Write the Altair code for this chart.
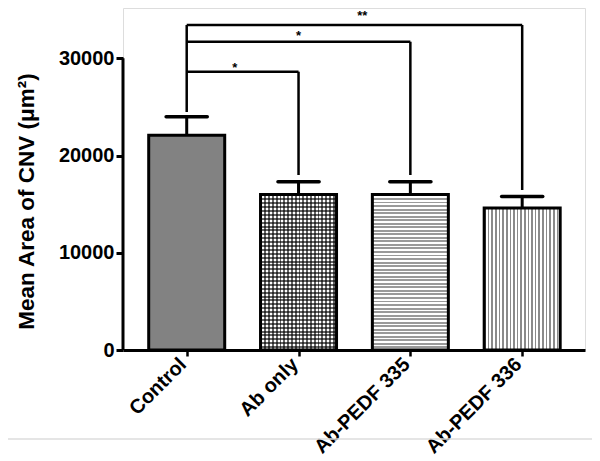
import json
import altair as alt
import pandas as pd

# ---------------- data ----------------
categories = ["Control", "Ab only", "Ab-PEDF 335", "Ab-PEDF 336"]
means = [22100, 16000, 16000, 14600]
upper = [24000, 17300, 17300, 15800]

# significance brackets (all compared with Control)
cmp_to = [1, 2, 3]
cmp_level = [28630, 31710, 33430]
cmp_end = [18000, 18000, 16460]
cmp_label = ["*", "*", "**"]
star_x = [0.43, 1.0, 1.57]
star_y = [29830, 33120, 35180]
bracket_base = 24480

y_ticks = [0, 10000, 20000, 30000]
y_axis_top = 30000

# ---------------- layout / style ----------------
FONT = "Liberation Sans"
W, H = 462, 342
BAR_PX = 76
CAP_HALF = 0.184  # half cap width in category units

bars = pd.DataFrame({
    "idx": list(range(len(categories))),
    "cat": categories,
    "mean": means,
    "upper": upper,
})
bars["lo"] = bars["idx"] - CAP_HALF
bars["hi"] = bars["idx"] + CAP_HALF

br = pd.DataFrame({"to": cmp_to, "level": cmp_level, "end": cmp_end})
br["x0"] = 0
stars = pd.DataFrame({"x": star_x, "y": star_y, "label": cmp_label})
left_v = pd.DataFrame({"x": [0], "y": [bracket_base], "y2": [max(cmp_level)]})
yline = pd.DataFrame({"y": [0], "y2": [y_axis_top]})

xscale = alt.Scale(domain=[-0.525, 3.517], nice=False, zero=False)
yscale = alt.Scale(domain=[0, 35180], nice=False, zero=False)

label_expr = json.dumps(categories) + "[datum.value]"

xaxis = alt.Axis(
    values=[0, 1, 2, 3], labelExpr=label_expr, title=None, grid=False,
    domainColor="black", domainWidth=3, tickColor="black", tickWidth=2.5,
    tickSize=6, labelAngle=-45, labelAlign="right", labelBaseline="middle",
    labelPadding=5, labelOffset=-4, labelFont=FONT, labelFontSize=20,
    labelFontWeight="bold", labelColor="black",
)
yaxis = alt.Axis(
    values=y_ticks, format="d", grid=False, domain=False, tickColor="black",
    tickWidth=3, tickSize=7, labelFont=FONT, labelFontSize=20,
    labelFontWeight="bold", labelColor="black", labelPadding=2,
    title="Mean Area of CNV (\u03bcm\u00b2)", titleFont=FONT, titleFontSize=22.5,
    titleFontWeight="bold", titleColor="black", titleX=-97, titleY=193,
    titleAngle=-90, titleAlign="center", titleBaseline="middle",
)


def stripes(n, c1, c2, frac, horizontal):
    stops = []
    for i in range(n):
        o = i / n
        m = (i + frac) / n
        e = (i + 1) / n
        stops += [alt.GradientStop(color=c1, offset=o),
                  alt.GradientStop(color=c1, offset=m),
                  alt.GradientStop(color=c2, offset=m),
                  alt.GradientStop(color=c2, offset=e)]
    if horizontal:  # stripes run horizontally -> gradient along y
        return alt.Gradient(gradient="linear", stops=stops, x1=0, x2=0, y1=0, y2=1)
    return alt.Gradient(gradient="linear", stops=stops, x1=0, x2=1, y1=0, y2=0)


base = alt.Chart(bars)
X = alt.X("idx:Q", scale=xscale)
Y = alt.Y("mean:Q", scale=yscale)

fill_colors = ["#828282", "white", "white", "white"]
bar_base = base.mark_bar(size=BAR_PX, strokeWidth=0).encode(
    x=alt.X("idx:Q", scale=xscale, axis=xaxis),
    y=alt.Y("mean:Q", scale=yscale, axis=yaxis),
    fill=alt.Fill("cat:N", scale=alt.Scale(domain=categories, range=fill_colors), legend=None),
)

def pat(i, grad):
    return base.transform_filter(alt.datum.idx == i).mark_bar(
        size=BAR_PX, strokeWidth=0, fill=grad
    ).encode(x=X, y=Y)

check_v = pat(1, stripes(20, "rgba(0,0,0,0.6)", "rgba(0,0,0,0)", 0.5, False))
check_h = pat(1, stripes(40, "rgba(0,0,0,0.6)", "rgba(0,0,0,0)", 0.5, True))
hstripes = pat(2, stripes(44, "#9a9a9a", "#ffffff", 0.55, True))
vstripes = pat(3, stripes(21, "#8a8a8a", "#ffffff", 0.45, False))

outline = base.mark_bar(size=BAR_PX, fillOpacity=0, stroke="black", strokeWidth=3).encode(x=X, y=Y)

err_v = base.mark_rule(color="black", strokeWidth=3).encode(
    x=X, y=Y, y2="upper:Q",
)
err_cap = base.mark_rule(color="black", strokeWidth=3.5, strokeCap="round").encode(
    x=alt.X("lo:Q", scale=xscale),
    x2="hi:Q",
    y=alt.Y("upper:Q", scale=yscale),
)

y_axis_line = alt.Chart(yline).mark_rule(color="black", strokeWidth=3).encode(
    x=alt.value(0),
    y=alt.Y("y:Q", scale=yscale),
    y2="y2:Q",
)

bh = alt.Chart(br).mark_rule(color="black", strokeWidth=2.5).encode(
    x=alt.X("x0:Q", scale=xscale),
    x2="to:Q",
    y=alt.Y("level:Q", scale=yscale),
)
bv = alt.Chart(br).mark_rule(color="black", strokeWidth=2.5).encode(
    x=alt.X("to:Q", scale=xscale),
    y=alt.Y("level:Q", scale=yscale),
    y2="end:Q",
)
bl = alt.Chart(left_v).mark_rule(color="black", strokeWidth=2.5).encode(
    x=alt.X("x:Q", scale=xscale),
    y=alt.Y("y:Q", scale=yscale),
    y2="y2:Q",
)
star_text = alt.Chart(stars).mark_text(
    font=FONT, fontSize=13, fontWeight="bold", color="black", baseline="top", dy=2
).encode(
    x=alt.X("x:Q", scale=xscale),
    y=alt.Y("y:Q", scale=yscale),
    text="label:N",
)

# faint separator line near the bottom of the figure
sep = alt.Chart(yline).mark_rule(color="#dddddd", strokeWidth=1.5).encode(
    x=alt.value(-121), x2=alt.value(469), y=alt.value(431),
)

chart = alt.layer(
    bar_base, check_v, check_h, hstripes, vstripes, outline,
    err_v, err_cap, y_axis_line, bh, bv, bl, star_text, sep,
).properties(
    width=W, height=H,
    autosize=alt.AutoSizeParams(type="none"),
    padding={"left": 115, "top": 0, "right": 7, "bottom": 111},
).configure_view(strokeWidth=0).configure(background="white")

chart.save("out.html", embed_options={"renderer": "svg", "actions": False})
